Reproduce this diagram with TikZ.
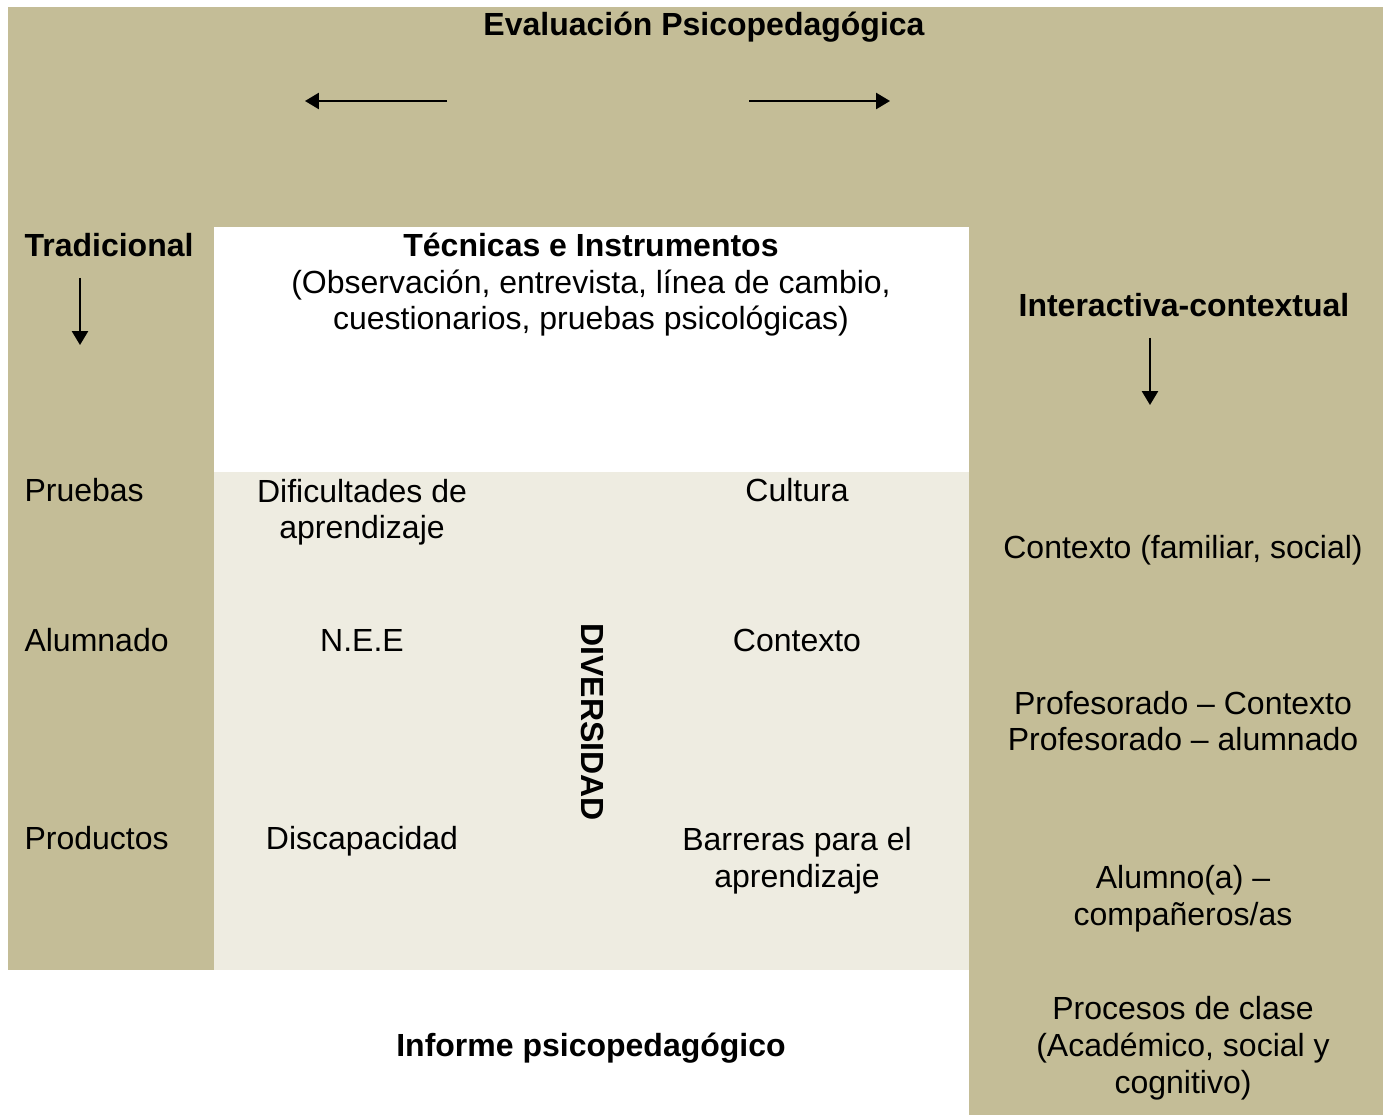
\documentclass[tikz,border=0pt]{standalone}
\usepackage{fontspec}
\setmainfont{Liberation Sans}
\usetikzlibrary{arrows.meta}
\definecolor{EvalTan}{HTML}{C4BD97}
\definecolor{EvalLight}{HTML}{EEECE1}

\begin{document}
\begin{tikzpicture}[x=0.375pt,y=-0.375pt,
    txt/.style={inner sep=0pt,anchor=base,align=center,font=\fontsize{12pt}{13.8pt}\selectfont},
    hdr/.style={txt,font=\fontsize{12pt}{13.8pt}\selectfont\bfseries},
    flow/.style={-{Triangle[length=5.2pt,width=6pt]},line width=0.8pt}]
  \useasboundingbox (0,0) rectangle (1383,1115);
  % background areas
  \fill[EvalTan] (8,7) rectangle (1383,970);
  \fill[EvalTan] (969,970) rectangle (1383,1115);
  \fill[white] (214,227) rectangle (969,472);
  \fill[EvalLight] (214,472) rectangle (969,970);

  % headings (multi-line nodes sit on their last baseline)
  \node[hdr] (eval) at (704,36) {Evaluación Psicopedagógica};
  \node[hdr,anchor=base west] (trad) at (24,257) {Tradicional};
  \node[hdr] (tecn) at (591,330) {Técnicas e Instrumentos\\
    \mdseries(Observación, entrevista, línea de cambio,\\
    \mdseries cuestionarios, pruebas psicológicas)};
  \node[hdr] (inter) at (1184,317) {Interactiva-contextual};
  \node[hdr] (inf) at (591,1057) {Informe psicopedagógico};
  \node[hdr,rotate=-90,anchor=center] (div) at (593,722) {DIVERSIDAD};

  % arrows
  \coordinate (la1) at (447,101);
  \coordinate (la2) at (305,101);
  \coordinate (ra1) at (749,101);
  \coordinate (ra2) at (890,101);
  \coordinate (ta1) at (80,278);
  \coordinate (ta2) at (80,345);
  \coordinate (ia1) at (1150,338);
  \coordinate (ia2) at (1150,405);
  \draw[flow] (la1) -- (la2);
  \draw[flow] (ra1) -- (ra2);
  \draw[flow] (ta1) -- (ta2);
  \draw[flow] (ia1) -- (ia2);

  % traditional column
  \node[txt,anchor=base west] (prue) at (24,502) {Pruebas};
  \node[txt,anchor=base west] (alum) at (24,652) {Alumnado};
  \node[txt,anchor=base west] (prod) at (24,850) {Productos};

  % diversity
  \node[txt] (dif) at (362,539) {Dificultades de\\aprendizaje};
  \node[txt] (cult) at (797,502) {Cultura};
  \node[txt] (nee) at (362,652) {N.E.E};
  \node[txt] (ctx) at (797,652) {Contexto};
  \node[txt] (disc) at (362,850) {Discapacidad};
  \node[txt] (barr) at (797,887) {Barreras para el\\aprendizaje};

  % interactive column
  \node[txt] (fam) at (1183,559) {Contexto (familiar, social)};
  \node[txt] (prof) at (1183,751) {Profesorado – Contexto\\Profesorado – alumnado};
  \node[txt] (comp) at (1183,925) {Alumno(a) –\\compañeros/as};
  \node[txt] (proc) at (1183,1093) {Procesos de clase\\(Académico, social y\\cognitivo)};
\end{tikzpicture}
\end{document}
